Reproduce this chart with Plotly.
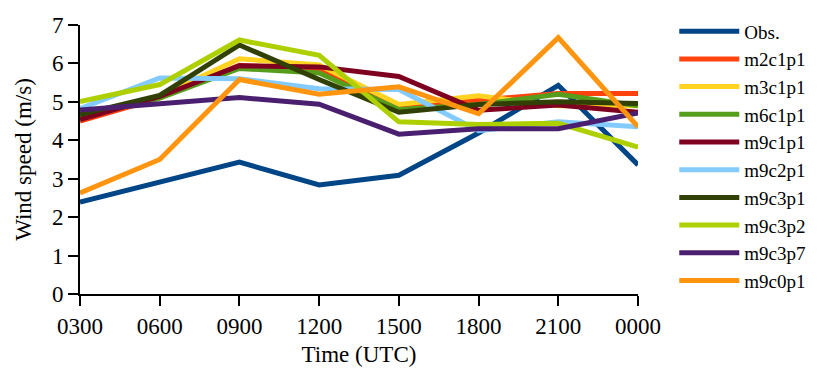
import plotly.graph_objects as go

times = ["0300", "0600", "0900", "1200", "1500", "1800", "2100", "0000"]
obs     = [2.39, 2.92, 3.43, 2.84, 3.09, 4.19, 5.43, 3.36]
m2c1p1  = [4.50, 5.10, 5.95, 5.85, 4.86, 5.03, 5.22, 5.22]
m3c1p1  = [4.55, 5.15, 6.12, 5.96, 4.93, 5.16, 4.90, 4.90]
m6c1p1  = [4.60, 5.10, 5.87, 5.75, 4.80, 4.93, 5.20, 4.90]
m9c1p1  = [4.54, 5.14, 5.94, 5.91, 5.66, 4.78, 4.92, 4.73]
m9c2p1  = [4.82, 5.62, 5.60, 5.34, 5.32, 4.25, 4.48, 4.35]
m9c3p1  = [4.67, 5.17, 6.48, 5.58, 4.73, 4.93, 5.00, 4.96]
m9c3p2  = [5.01, 5.45, 6.61, 6.21, 4.48, 4.41, 4.44, 3.82]
m9c3p7  = [4.79, 4.94, 5.11, 4.94, 4.16, 4.30, 4.30, 4.71]
m9c0p1  = [2.63, 3.50, 5.58, 5.20, 5.39, 4.69, 6.67, 4.35]

names = ["Obs.", "m2c1p1", "m3c1p1", "m6c1p1", "m9c1p1", "m9c2p1",
         "m9c3p1", "m9c3p2", "m9c3p7", "m9c0p1"]
series = [obs, m2c1p1, m3c1p1, m6c1p1, m9c1p1, m9c2p1, m9c3p1, m9c3p2, m9c3p7, m9c0p1]
colors = ["#004586", "#ff420e", "#ffd320", "#579d1c", "#7e0021", "#83caff",
          "#314004", "#aecf00", "#4b1f6f", "#ff950e"]

xpos = list(range(len(times)))
fig = go.Figure()
for n, s, c in zip(names, series, colors):
    fig.add_trace(go.Scatter(x=xpos, y=s, name=n, mode="lines",
                             line=dict(color=c, width=5)))

font = "Liberation Serif, Times New Roman, serif"
fig.update_layout(
    width=825, height=376,
    margin=dict(l=80, r=187, t=17, b=82),
    plot_bgcolor="white", paper_bgcolor="white",
    font=dict(family=font, size=23, color="black"),
    legend=dict(x=1.065, y=1.047, xanchor="left", yanchor="top",
                font=dict(family=font, size=19), tracegroupgap=0,
                itemwidth=60, maxheight=400),
    showlegend=True,
)
fig.update_xaxes(range=[0, 7], tickvals=xpos, ticktext=times,
                 showgrid=False, zeroline=False, showline=True,
                 linecolor="black", linewidth=2, ticks="outside",
                 ticklen=10, tickwidth=2, tickcolor="black",
                 tickfont=dict(family=font, size=23),
                 title=dict(text="Time (UTC)", standoff=8,
                            font=dict(family=font, size=23)))
fig.update_yaxes(range=[0, 7], dtick=1, showgrid=False, zeroline=False,
                 showline=True, linecolor="black", linewidth=2,
                 ticks="outside", ticklen=10, tickwidth=2, tickcolor="black",
                 tickfont=dict(family=font, size=23),
                 title=dict(text="Wind speed (m/s)", standoff=14,
                            font=dict(family=font, size=23)))
fig.write_html("out.html")
